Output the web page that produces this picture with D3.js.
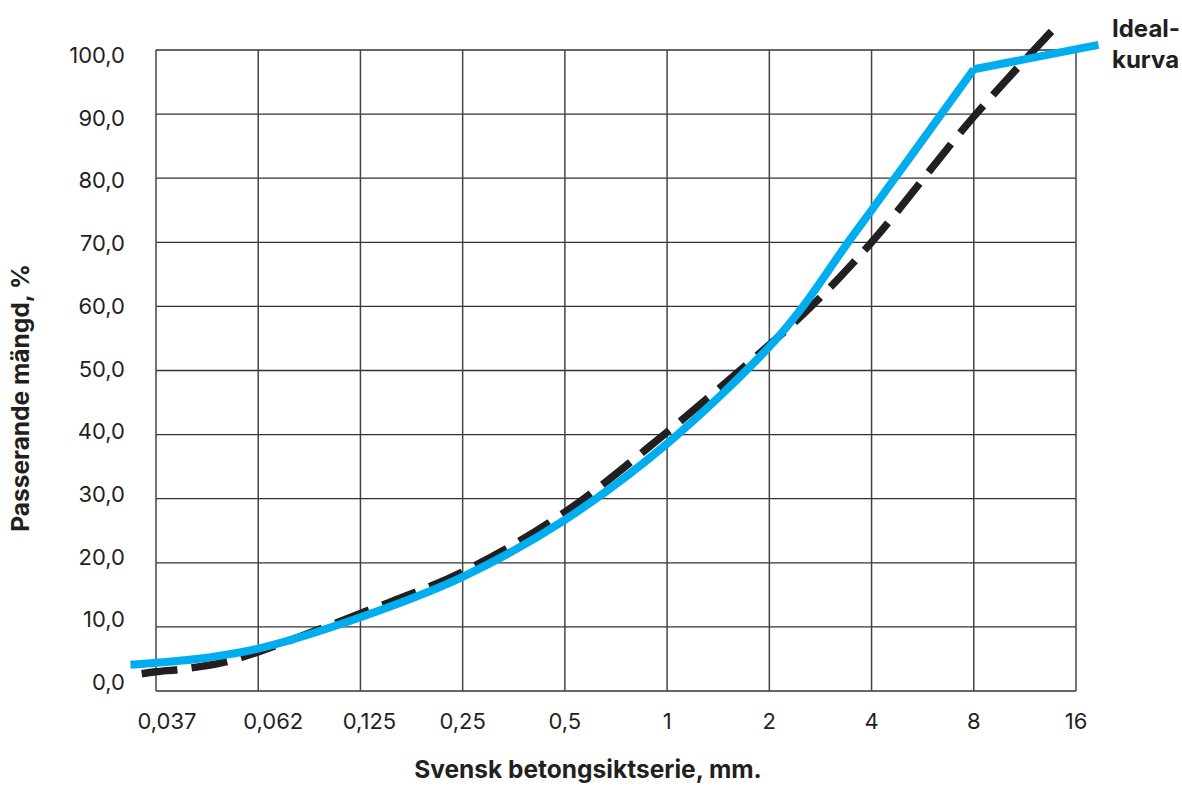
<!DOCTYPE html>
<html>
<head>
<meta charset="utf-8">
<script src="https://cdn.jsdelivr.net/npm/d3@7"></script>
<style>
  body { margin: 0; background: #fff; }
  text { font-family: Inter, "Liberation Sans", sans-serif; fill: #231f20; }
</style>
</head>
<body>
<div id="chart"></div>
<script>
// sieve series, one grid column per step
var sieveLabels = ["0,037", "0,062", "0,125", "0,25", "0,5", "1", "2", "4", "8", "16"];
var yTicks = [0, 10, 20, 30, 40, 50, 60, 70, 80, 90, 100];

// measured grading curve (blue), x in sieve steps
var curveSteps = [-0.25, 0, 0.5, 1, 2, 3, 4, 5, 6, 6.33, 6.77, 7, 8];
var curveVals  = [4.1, 4.4, 5.2, 6.6, 11.5, 17.8, 26.7, 38.6, 53.7, 60.0, 70.0, 75.0, 97.0];
var tailSteps  = [8, 9.22];
var tailVals   = [97.0, 100.8];

// ideal curve (dashed)
var idealSteps = [-0.14, 0, 0.3, 0.67, 1, 2, 3, 4, 5, 6, 6.41, 7, 8, 8.76];
var idealVals  = [2.7, 3.0, 3.5, 4.5, 6.1, 12.1, 18.6, 27.9, 40.4, 54.0, 60.0, 70.0, 89.6, 102.9];

const width = 1182, height = 787;
const plotLeft = 156, plotRight = 1076, plotTop = 50, plotBottom = 691;
const blue = "#00aeef", ink = "#231f20";
const dash = 36, gap = 15;
// small nudges the original layout gives the first tick labels
const labelNudge = {"0,037": 11, "0,062": 15, "0,125": 9};

const svg = d3.select("#chart").append("svg")
  .attr("width", width)
  .attr("height", height);

const x = d3.scaleLinear().domain([0, sieveLabels.length - 1]).range([plotLeft, plotRight]);
const y = d3.scaleLinear().domain([0, 100]).range([plotBottom, plotTop]);
// tick labels are spaced a little tighter than the grid
const yLab = d3.scaleLinear().domain([0, 100]).range([690, 63]);

// grid
svg.append("g")
  .selectAll("line")
  .data(yTicks)
  .enter().append("line")
  .attr("x1", plotLeft).attr("x2", plotRight)
  .attr("y1", function(d) { return y(d); })
  .attr("y2", function(d) { return y(d); })
  .style("stroke", "#333")
  .style("stroke-width", 1.3);

svg.append("g")
  .selectAll("line")
  .data(sieveLabels)
  .enter().append("line")
  .attr("x1", function(d, i) { return x(i); })
  .attr("x2", function(d, i) { return x(i); })
  .attr("y1", plotTop).attr("y2", plotBottom)
  .style("stroke", "#444")
  .style("stroke-width", 1.5);

// y tick labels
svg.append("g")
  .selectAll("text")
  .data(yTicks)
  .enter().append("text")
  .attr("x", 125)
  .attr("y", function(d) { return yLab(d); })
  .attr("text-anchor", "end")
  .style("font-size", "22px")
  .text(function(d) { return d3.format(".1f")(d).replace(".", ","); });

// x tick labels
svg.append("g")
  .selectAll("text")
  .data(sieveLabels)
  .enter().append("text")
  .attr("x", function(d, i) { return x(i) + (labelNudge[d] || 0); })
  .attr("y", 729)
  .attr("text-anchor", "middle")
  .style("font-size", "22px")
  .text(function(d) { return d; });

function pts(steps, vals) {
  return steps.map(function(s, i) { return [s, vals[i]]; });
}

const smooth = d3.line()
  .x(function(d) { return x(d[0]); })
  .y(function(d) { return y(d[1]); })
  .curve(d3.curveCatmullRom.alpha(0.5));
const straight = d3.line()
  .x(function(d) { return x(d[0]); })
  .y(function(d) { return y(d[1]); });

// ideal curve
const ideal = svg.append("path")
  .datum(pts(idealSteps, idealVals))
  .attr("d", smooth)
  .style("fill", "none")
  .style("stroke", ink)
  .style("stroke-width", 7.5);
// stretch the gaps a touch so the line starts and ends on a dash
var len = ideal.node().getTotalLength();
var n = Math.round((len - dash) / (dash + gap));
var fitGap = (len - dash) / n - dash;
ideal.style("stroke-dasharray", dash + "," + fitGap);

// measured curve
svg.append("path")
  .datum(pts(curveSteps, curveVals))
  .attr("d", smooth)
  .style("fill", "none")
  .style("stroke", blue)
  .style("stroke-width", 8);
svg.append("path")
  .datum(pts(tailSteps, tailVals))
  .attr("d", straight)
  .style("fill", "none")
  .style("stroke", blue)
  .style("stroke-width", 8);

// labels
svg.append("text")
  .attr("x", 1112).attr("y", 37)
  .style("font-size", "24px").style("font-weight", "bold")
  .text("Ideal-");
svg.append("text")
  .attr("x", 1112).attr("y", 68)
  .style("font-size", "24px").style("font-weight", "bold")
  .text("kurva");

svg.append("text")
  .attr("x", 588).attr("y", 778)
  .attr("text-anchor", "middle")
  .style("font-size", "24.5px").style("font-weight", "bold")
  .text("Svensk betongsiktserie, mm.");

svg.append("text")
  .attr("transform", "translate(29,398) rotate(-90)")
  .attr("text-anchor", "middle")
  .style("font-size", "24.5px").style("font-weight", "bold")
  .text("Passerande mängd, %");
</script>
</body>
</html>
